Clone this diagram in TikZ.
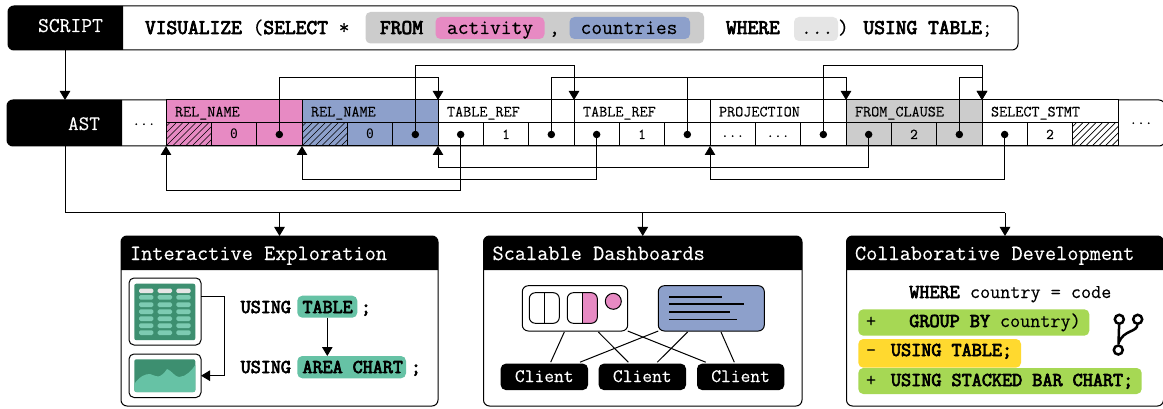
\documentclass[tikz,border=0pt]{standalone}
\usepackage{fontspec}
\setmonofont{Latin Modern Mono}[FakeBold=0.25]
\newfontfamily\boldmono{Latin Modern Mono}[FakeBold=3.6]
\newfontfamily\zerofont{DejaVu Sans Mono}
\usetikzlibrary{arrows.meta,calc}
\definecolor{cpink}{HTML}{E78AC3}
\definecolor{cblue}{HTML}{8DA0CB}
\definecolor{cgreen}{HTML}{66C2A5}
\definecolor{cdark}{HTML}{3D8F70}
\definecolor{clime}{HTML}{A6D854}
\definecolor{cyell}{HTML}{FFD92F}
\definecolor{cgray}{HTML}{CCCCCC}
\definecolor{clight}{HTML}{E5E5E5}
\newcommand\sz[1]{\ttfamily\fontsize{#1}{#1}\selectfont}
\newcommand\BF[1]{{\boldmono #1}}
\tikzset{
  ln/.style={line width=1pt,draw=black},
  arr/.style={ln,-{Triangle[width=10.5pt,length=9pt]}},
  box/.style={draw=black,line width=1pt,inner sep=0pt,outer sep=0pt,anchor=north west},
  txt/.style={inner sep=0pt,outer sep=0pt,anchor=base west,text=black},
  ctr/.style={inner sep=0pt,outer sep=0pt,anchor=base,text=black},
  dot/.style={circle,fill=black,inner sep=0pt,minimum size=7.5pt,outer sep=0pt},
  pill/.style={inner sep=0pt,outer sep=0pt,anchor=north west,rounded corners=5pt},
  gitnode/.style={circle,draw=black,line width=2.5pt,minimum size=9pt,inner sep=0pt},
}
\newcommand\plate[5]{\node[pill,fill=#5,minimum width=#3pt,minimum height=#4pt] (#1) at (#2) {};}
\newcommand\hatch[1]{%
  \begin{scope}
    \clip (#1,123) rectangle (#1+45.33,146);
    \foreach \k in {-4,...,8}{\draw[line width=.7pt] ({#1+\k*6.5},146) -- ++(23,-23);}
  \end{scope}}
\newcommand\rec[4]{%
  \node[box,fill=#4,minimum width=136pt,minimum height=23pt] (#1) at (#2,100) {};
  \node[box,fill=#4,minimum width=45.33pt,minimum height=23pt] (#1a) at (#2,123) {};
  \node[box,fill=#4,minimum width=45.33pt,minimum height=23pt] (#1b) at (#2+45.33,123) {};
  \node[box,fill=#4,minimum width=45.34pt,minimum height=23pt] (#1c) at (#2+90.66,123) {};
  \node[txt] (#1t) at (#2+9,116.5) {\sz{15.7}#3};
}
\begin{document}
\begin{tikzpicture}[x=1pt,y=-1pt]
\useasboundingbox (0,0) rectangle (1163,409);
% SCRIPT
\node[box,rounded corners=6pt,fill=white,minimum width=1010pt,minimum height=44pt] (scriptbar) at (8,6) {};
\fill[black] (123,6) [rounded corners=6pt] -- (8,6) -- (8,50) [sharp corners] -- (123,50) -- cycle;
\node[ctr,text=white] (scriptlbl) at (70.5,32) {\sz{21}SCRIPT};
\plate{gr}{365.5,12}{338.5}{31.5}{cgray}
\plate{pk}{435.5,17}{109}{22}{cpink}
\plate{bl}{569.5,17}{120.5}{22}{cblue}
\plate{el}{794,17}{44}{24}{clight}
\node[txt] (s1) at (145,34) {\sz{20.9}\BF{VISUALIZE} (\BF{SELECT} *};
\node[txt] (s2) at (380,34) {\sz{20.9}\BF{FROM}};
\node[txt] (s3) at (447,34) {\sz{20.9}activity};
\node[txt] (s4) at (549,34) {\sz{20.9},};
\node[txt] (s5) at (580.6,34) {\sz{20.9}countries};
\node[txt] (s6) at (726,34) {\sz{20.9}\BF{WHERE}};
\node[txt] (s7) at (801,34) {\sz{20.9}...};
\node[txt] (s8) at (838,34) {\sz{20.9})};
\node[txt] (s9) at (863.5,34) {\sz{20.9}\BF{USING TABLE};};
% AST
\node[box,rounded corners=6pt,fill=white,minimum width=1158pt,minimum height=46pt] (astbar) at (7,100) {};
\fill[black] (122,100) [rounded corners=6pt] -- (7,100) -- (7,146) [sharp corners] -- (122,146) -- cycle;
\node[ctr,text=white] (astlbl) at (84,130) {\sz{20.6}AST};
\node[ctr] (d1) at (144,125) {\sz{15}...};
\node[ctr] (d2) at (1141,124) {\sz{15}...};
\rec{A}{166}{REL\_NAME}{cpink}
\rec{B}{302}{REL\_NAME}{cblue}
\rec{C}{438}{TABLE\_REF}{white}
\rec{D}{574}{TABLE\_REF}{white}
\rec{E}{710}{PROJECTION}{white}
\rec{F}{846}{FROM\_CLAUSE}{cgray}
\rec{G}{982}{SELECT\_STMT}{white}
\hatch{166}
\hatch{302}
\hatch{1072.66}
\node[ctr] (zA) at (Ab.center |- 0,139) {\sz{13}\zerofont 0};
\node[ctr] (zB) at (Bb.center |- 0,139) {\sz{13}\zerofont 0};
\foreach \n/\v in {C/1,D/1,F/2,G/2}{\node[ctr] (z\n) at (\n b.center |- 0,139) {\sz{15}\v};}
\node[ctr] (zE1) at (Ea.center |- 0,137) {\sz{15}...};
\node[ctr] (zE2) at (Eb.center |- 0,137) {\sz{15}...};
\foreach \n in {Ac,Bc,Ca,Cc,Da,Dc,Ec,Fa,Fc,Ga}{\node[dot] (p\n) at (\n.center) {};}
% top connectors
\draw[arr] (pAc) -- (pAc |- 0,77.5) -| (B.north east);
\draw[arr] (pBc) -- (pBc |- 0,66) -| (C.north east);
\draw[ln] (pDc) -- (pDc |- 0,77.5);
\draw[arr] (pCc) -- (pCc |- 0,77.5) -| (E.north east);
\draw[arr] (pEc) -- (pEc |- 0,66) -| (F.north east);
\draw[arr] (pFc) -- (pFc |- 0,77.5) -| (F.north east);
% bottom connectors
\draw[arr] (pCa) -- (pCa |- 0,190.5) -| (Aa.south west);
\draw[arr] (pDa) -- (pDa |- 0,179.5) -| (Ba.south west);
\draw[arr] (pFa) -- (pFa |- 0,168) -| (Ca.south west);
\draw[arr] (pGa) -- (pGa |- 0,179.5) -| (Ea.south west);
% cards
\node[box,rounded corners=6pt,fill=white,minimum width=317pt,minimum height=170pt] (P) at (121,236) {};
\node[box,rounded corners=6pt,fill=white,minimum width=318.5pt,minimum height=170pt] (Q) at (483.5,236) {};
\node[box,rounded corners=6pt,fill=white,minimum width=317pt,minimum height=170pt] (R) at (846.5,236) {};
\foreach \c in {P,Q,R}{
  \fill[black] (\c.north west |- 0,270) [rounded corners=6pt] -- (\c.north west) -- (\c.north east) [sharp corners] -- (\c.north east |- 0,270) -- cycle;
}
\node[txt,text=white] (Pt) at (130,260) {\sz{21.7}Interactive Exploration};
\node[txt,text=white] (Qt) at (492.5,260) {\sz{21.7}Scalable Dashboards};
\node[txt,text=white] (Rt) at (855,260) {\sz{21.7}Collaborative Development};
% trunk
\coordinate (jP) at (P.north |- 0,213);
\coordinate (jQ) at (Q.north |- 0,213);
\coordinate (jR) at (R.north |- 0,213);
\draw[arr] (scriptbar.south -| 65,0) -- (astbar.north -| 65,0);
\draw[ln] (astbar.south -| 65,0) -- (65,213) -- (jR);
\draw[arr] (jP) -- (P.north);
\draw[arr] (jQ) -- (Q.north);
\draw[arr] (jR) -- (R.north);
% card 1
\node[box,rounded corners=5pt,fill=white,minimum width=72pt,minimum height=67pt] (tb) at (129,278) {};
\node[pill,fill=cdark,rounded corners=2pt,minimum width=61pt,minimum height=56.5pt] (tbi) at (134.3,283.7) {};
\foreach \xx in {139,157.7,176.3}{
  \fill[clight,rounded corners=1.5pt] (\xx,288.5) rectangle ++(14.4,4.6);
  \foreach \yy in {295,302.4,309.4,316.4,323.4,330.4}{\fill[cgreen!85!white,rounded corners=1.5pt] (\xx,\yy) rectangle ++(14.4,4.6);}
}
\node[box,rounded corners=5pt,fill=white,minimum width=72pt,minimum height=43.5pt] (ch) at (129,354) {};
\node[pill,fill=cdark,rounded corners=2pt,minimum width=61pt,minimum height=32.7pt] (chi) at (134.3,359.3) {};
\begin{scope}
\clip[rounded corners=2pt] (134.3,359.3) rectangle (195.3,392);
\fill[cgreen] (134.3,384) .. controls (140,376) and (145,374) .. (150,374) .. controls (155,376) and (158,377) .. (160,376) .. controls (164,374) and (167,369) .. (167,369) .. controls (171,370) and (175,377) .. (179,377) .. controls (186,377) and (192,370) .. (195.3,365) -- (195.3,392) -- (134.3,392) -- cycle;
\end{scope}
\draw[arr] (tb.east |- 0,296.3) -- (224,296.3) -- (224,375.7) -- (ch.east |- 0,375.7);
\plate{tt}{297.3,295.7}{60}{22}{cgreen}
\plate{ac}{297.3,356}{108.7}{22.3}{cgreen}
\node[txt] (u1) at (240.7,313) {\sz{19.5}\BF{USING}};
\node[txt] (u2) at (240.7,373) {\sz{19.5}\BF{USING}};
\node[txt] (u3) at (302.5,313) {\sz{19.5}\BF{TABLE}};
\node[txt] (u4) at (302.5,373) {\sz{19.5}\BF{AREA CHART}};
\node[txt] (u5) at (361,313) {\sz{19.5}\BF{;}};
\node[txt] (u6) at (411,373) {\sz{19.5}\BF{;}};
\draw[arr] (tt.south -| 327.3,0) -- (ac.north -| 327.3,0);
% card 2
\node[box,rounded corners=6pt,fill=white,minimum width=105.4pt,minimum height=45.3pt] (pl) at (522.3,285.7) {};
\node[box,rounded corners=6pt,fill=cblue,minimum width=106pt,minimum height=45.3pt] (pr) at (658.3,285.7) {};
\node[box,rounded corners=6pt,minimum width=30pt,minimum height=30.6pt] (w1) at (529.3,292.7) {};
\draw[ln] (w1.north) -- (w1.south);
\begin{scope}
\clip (582.3,290) rectangle (600,326);
\fill[cpink,rounded corners=6pt] (567.3,292.7) rectangle (597.3,323.3);
\end{scope}
\node[box,rounded corners=6pt,minimum width=30pt,minimum height=30.6pt] (w2) at (567.3,292.7) {};
\draw[ln] (w2.north) -- (w2.south);
\node[circle,draw=black,line width=1pt,fill=cpink,minimum size=16pt,inner sep=0pt] (w3) at (613.3,301.3) {};
\foreach \yy/\ee in {296.7/721.7,304/744.3,311.7/729.7,319.3/737}{\draw[line width=1.6pt] (669.3,\yy) -- (\ee,\yy);}
\foreach \n/\xx in {c1/500.7,c2/598.7,c3/697}{
  \node[pill,fill=black,minimum width=87.3pt,minimum height=26.3pt] (\n) at (\xx,363.7) {};
  \node[ctr,text=white] (\n t) at (\xx+43.6,382) {\sz{19}Client};
}
\draw[ln] ($(pl.south west)+(42,1)$) -- ($(c1.north west)+(50,-1.5)$);
\draw[ln] ($(pl.south west)+(76,1)$) -- ($(c2.north west)+(29.6,-1.5)$);
\draw[ln] (pl.south east) -- ($(c3.north west)+(8.7,-1.5)$);
\draw[ln] (pr.south west) -- ($(c1.north west)+(79.3,-1.5)$);
\draw[ln] ($(pr.south west)+(29.4,1)$) -- ($(c2.north west)+(58.6,-1.5)$);
\draw[ln] ($(pr.south west)+(62.7,1)$) -- ($(c3.north west)+(37.3,-1.5)$);
% card 3
\plate{g1}{858.3,309.3}{231}{26.4}{clime}
\plate{g2}{858.3,339}{162.7}{28.7}{cyell}
\plate{g3}{858.3,368}{283.4}{26}{clime}
\node[txt] (v1) at (909.3,298) {\sz{19.6}\BF{WHERE}};
\node[txt] (v2) at (970,298) {\sz{19.6}country = code};
\node[txt] (v3) at (866,327) {\sz{19.6}+};
\node[txt] (v4) at (909.3,327) {\sz{19.6}\BF{GROUP BY}};
\node[txt] (v5) at (1000,327) {\sz{19.6}country)};
\node[txt] (v6) at (866,356) {\sz{19.6}-};
\node[txt] (v7) at (891,356) {\sz{19.6}\BF{USING TABLE;}};
\node[txt] (v8) at (866,386) {\sz{19.6}+};
\node[txt] (v9) at (891,386) {\sz{19.6}\BF{USING STACKED BAR CHART;}};
\node[gitnode] (n1) at (1119.3,319.3) {};
\node[gitnode] (n2) at (1137.7,319.3) {};
\node[gitnode] (n3) at (1118.3,350) {};
\draw[line width=2.5pt] (n1) -- (n3);
\draw[line width=2.5pt] (n2) .. controls (1137,332) and (1124,330) .. (1119,342);
\end{tikzpicture}
\end{document}
